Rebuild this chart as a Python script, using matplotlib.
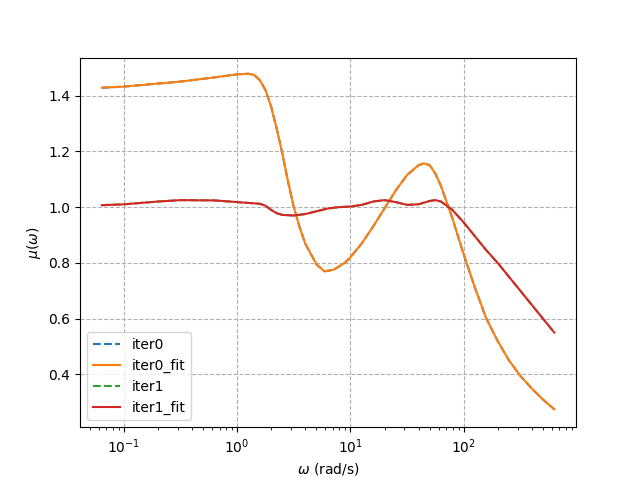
import numpy as np
import matplotlib
matplotlib.use("Agg")
import matplotlib.pyplot as plt

logw0 = [-1.195, -1.0, -0.5, -0.2, 0.0, 0.1, 0.15, 0.2, 0.25, 0.3, 0.35, 0.4, 0.45, 0.5, 0.55, 0.6, 0.7, 0.77, 0.85, 0.95, 1.0, 1.1, 1.2, 1.3, 1.4, 1.5, 1.6, 1.65, 1.7, 1.75, 1.8, 1.9, 2.0, 2.1, 2.2, 2.3, 2.4, 2.5, 2.6, 2.7, 2.8]
mu0 = [1.428, 1.432, 1.450, 1.465, 1.476, 1.478, 1.474, 1.455, 1.42, 1.36, 1.28, 1.19, 1.09, 1.0, 0.93, 0.87, 0.795, 0.77, 0.775, 0.80, 0.82, 0.87, 0.93, 0.995, 1.06, 1.115, 1.15, 1.157, 1.15, 1.12, 1.075, 0.96, 0.83, 0.71, 0.60, 0.52, 0.45, 0.395, 0.35, 0.31, 0.275]
logw1 = [-1.195, -1.0, -0.7, -0.5, -0.2, 0.0, 0.2, 0.25, 0.3, 0.35, 0.4, 0.5, 0.6, 0.7, 0.8, 0.9, 1.0, 1.1, 1.2, 1.3, 1.4, 1.5, 1.6, 1.7, 1.75, 1.8, 1.85, 1.9, 2.0, 2.1, 2.2, 2.3, 2.4, 2.5, 2.6, 2.7, 2.8]
mu1 = [1.007, 1.01, 1.02, 1.025, 1.024, 1.018, 1.012, 1.005, 0.99, 0.978, 0.972, 0.97, 0.975, 0.985, 0.995, 1.0, 1.002, 1.008, 1.02, 1.025, 1.018, 1.008, 1.01, 1.022, 1.025, 1.02, 1.005, 0.99, 0.945, 0.895, 0.845, 0.80, 0.75, 0.70, 0.65, 0.60, 0.55]

w0 = 10 ** np.array(logw0)
w1 = 10 ** np.array(logw1)

fig, ax = plt.subplots(figsize=(6.4, 4.8), dpi=100)
ax.plot(w0, mu0, '--', color='#1f77b4', label='iter0')
ax.plot(w0, mu0, '-', color='#ff7f0e', label='iter0_fit')
ax.plot(w1, mu1, '--', color='#2ca02c', label='iter1')
ax.plot(w1, mu1, '-', color='#d62728', label='iter1_fit')
ax.set_xscale('log')
ax.set_xlim(0.041, 980)
ax.set_ylim(0.211, 1.536)
ax.grid(True, which='major', linestyle='--', color='#b0b0b0')
ax.set_xlabel(r'$\omega$ (rad/s)')
ax.set_ylabel(r'$\mu(\omega)$')
ax.legend(loc='lower left')
fig.savefig('out.png', dpi=100)
